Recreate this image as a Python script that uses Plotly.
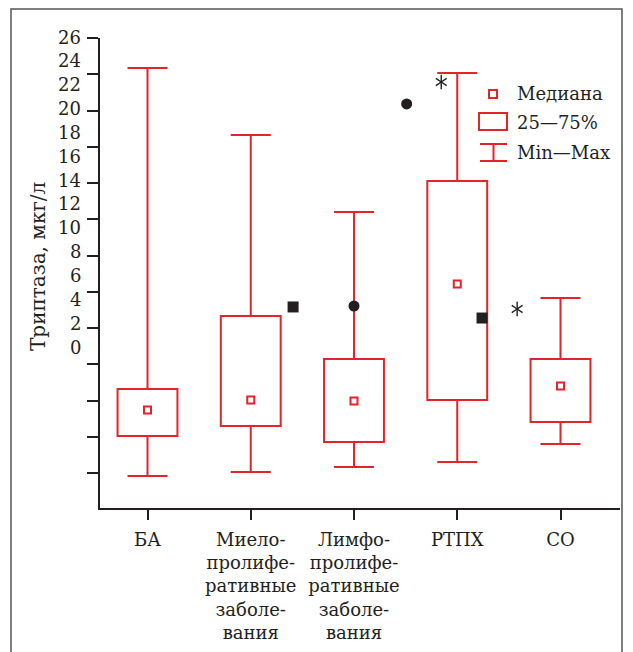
import numpy as np
import plotly.graph_objects as go

# ---------------- data (values read in units of the printed axis labels) ----------------
categories = ["БА",
              "Миело-<br>пролифе-<br>ративные<br>заболе-<br>вания",
              "Лимфо-<br>пролифе-<br>ративные<br>заболе-<br>вания",
              "РТПХ",
              "СО"]
y_min    = [-10.82, -10.49, -10.07, -9.65, -8.14]
y_q1     = [-7.47,  -6.63,  -7.97,  -4.45, -6.29]
y_median = [-5.29,  -4.45,  -4.53,   5.29, -3.27]
y_q3     = [-3.52,   2.60,  -1.01,  13.93, -1.01]
y_max    = [23.41,  17.79,  11.33,  22.99,  4.11]

# outliers / extremes: x given as category index (fractional = beside the box)
sq_x = [1.41, 3.24]
sq_y = [3.36, 2.43]
circ_x = [2.0, 2.51]
circ_y = [3.44, 20.39]
ast_x = [2.845, 3.58]
ast_y = [22.23, 3.19]

y_label_values = list(range(26, -1, -2))

# ---------------- style / geometry ----------------
RED = "#e4232b"
INK = "#231f20"
FONT = "DejaVu Serif"
FS = 18
W, H = 633, 652
L, R, T, B = 100, 13, 38, 144           # plot area: x 100..620, y 38..508
ZERO_PX, PX_PER_UNIT = 347.0, 11.92     # where label "0" sits and label spacing
TICK_TOP_PX, TICK_STEP_PX, N_TICKS = 38.0, 36.25, 13

def px2y(p):
    return (ZERO_PX - p) / PX_PER_UNIT

yrange = [px2y(H - B), px2y(T)]
tickvals_y = [px2y(TICK_TOP_PX + k * TICK_STEP_PX) for k in range(N_TICKS)]

def xp(px):
    return (px - L) / (W - L - R)

def yp(py):
    return (H - B - py) / (H - B - T)

idx = list(range(len(categories)))
q1 = np.array(y_q1); q3 = np.array(y_q3)
mn = np.array(y_min); mx = np.array(y_max)

fig = go.Figure()

# boxes (25-75%)
fig.add_trace(go.Bar(x=idx, y=q3 - q1, base=q1, width=0.58,
                     marker=dict(color="white", line=dict(color=RED, width=2)),
                     hoverinfo="skip", showlegend=False))
# upper whiskers
fig.add_trace(go.Scatter(x=idx, y=q3, mode="markers",
                         marker=dict(size=1, color="rgba(0,0,0,0)"),
                         error_y=dict(type="data", symmetric=False, array=mx - q3,
                                      arrayminus=[0] * len(idx), color=RED,
                                      thickness=2, width=20),
                         showlegend=False, hoverinfo="skip"))
# lower whiskers
fig.add_trace(go.Scatter(x=idx, y=q1, mode="markers",
                         marker=dict(size=1, color="rgba(0,0,0,0)"),
                         error_y=dict(type="data", symmetric=False, array=[0] * len(idx),
                                      arrayminus=q1 - mn, color=RED,
                                      thickness=2, width=20),
                         showlegend=False, hoverinfo="skip"))
# medians
fig.add_trace(go.Scatter(x=idx, y=y_median, mode="markers",
                         marker=dict(symbol="square", size=7, color="white",
                                     line=dict(color=RED, width=2)),
                         showlegend=False))
# outliers
fig.add_trace(go.Scatter(x=sq_x, y=sq_y, mode="markers",
                         marker=dict(symbol="square", size=11, color=INK),
                         showlegend=False))
fig.add_trace(go.Scatter(x=circ_x, y=circ_y, mode="markers",
                         marker=dict(symbol="circle", size=11, color=INK),
                         showlegend=False))
for sym in ["y-up-open", "y-down-open"]:
    fig.add_trace(go.Scatter(x=ast_x, y=ast_y, mode="markers",
                             marker=dict(symbol=sym, size=9, color=INK,
                                         line=dict(color=INK, width=1.4)),
                             showlegend=False))

annotations = []
# printed y labels (placed where they are printed, independent of the tick marks)
for v in y_label_values:
    annotations.append(dict(x=xp(83), xref="paper", y=yp(ZERO_PX - v * PX_PER_UNIT),
                            yref="paper", text=str(v),
                            showarrow=False, xanchor="right", yanchor="middle",
                            font=dict(family=FONT, size=FS, color=INK)))
# y title
annotations.append(dict(x=xp(38), xref="paper", y=yp(267), yref="paper",
                        text="Триптаза, мкг/л", textangle=-90, showarrow=False,
                        xanchor="center", yanchor="middle",
                        font=dict(family=FONT, size=20, color=INK)))
# legend texts
for txt, py in [("Медиана", 94), ("25—75%", 122), ("Min—Max", 152)]:
    annotations.append(dict(x=xp(515), xref="paper", y=yp(py), yref="paper",
                            text=txt, showarrow=False, xanchor="left", yanchor="middle",
                            font=dict(family=FONT, size=FS, color=INK)))

shapes = [
    # outer frame
    dict(type="rect", xref="paper", yref="paper", x0=xp(11), x1=xp(622),
         y0=yp(670), y1=yp(9), line=dict(color="#555555", width=1.5)),
    # legend glyphs
    dict(type="rect", xref="paper", yref="paper", x0=xp(489), x1=xp(497),
         y0=yp(98), y1=yp(90), line=dict(color=RED, width=2)),
    dict(type="rect", xref="paper", yref="paper", x0=xp(479), x1=xp(507),
         y0=yp(130), y1=yp(113), line=dict(color=RED, width=2)),
    dict(type="line", xref="paper", yref="paper", x0=xp(480), x1=xp(507),
         y0=yp(144), y1=yp(144), line=dict(color=RED, width=2)),
    dict(type="line", xref="paper", yref="paper", x0=xp(480), x1=xp(507),
         y0=yp(161), y1=yp(161), line=dict(color=RED, width=2)),
    dict(type="line", xref="paper", yref="paper", x0=xp(493.5), x1=xp(493.5),
         y0=yp(144), y1=yp(161), line=dict(color=RED, width=2)),
]

cat0_px, cat_step_px = 147.5, 103.25
xrange = [(L - cat0_px) / cat_step_px, (W - R - cat0_px) / cat_step_px]

fig.update_layout(
    width=W, height=H,
    margin=dict(l=L, r=R, t=T, b=B, pad=0),
    paper_bgcolor="white", plot_bgcolor="white",
    font=dict(family=FONT, size=FS, color=INK),
    showlegend=False,
    annotations=annotations, shapes=shapes,
    xaxis=dict(range=xrange, tickvals=idx, ticktext=categories, automargin=False,
               showline=True, linecolor=INK, linewidth=2,
               ticks="outside", ticklen=10, tickwidth=2, tickcolor=INK,
               ticklabelstandoff=4,
               showgrid=False, zeroline=False,
               tickfont=dict(family=FONT, size=FS, color=INK)),
    yaxis=dict(range=yrange, tickvals=tickvals_y, showticklabels=False, automargin=False,
               showline=True, linecolor=INK, linewidth=2,
               ticks="outside", ticklen=11, tickwidth=2, tickcolor=INK,
               showgrid=False, zeroline=False),
)

fig.write_html("out.html")
